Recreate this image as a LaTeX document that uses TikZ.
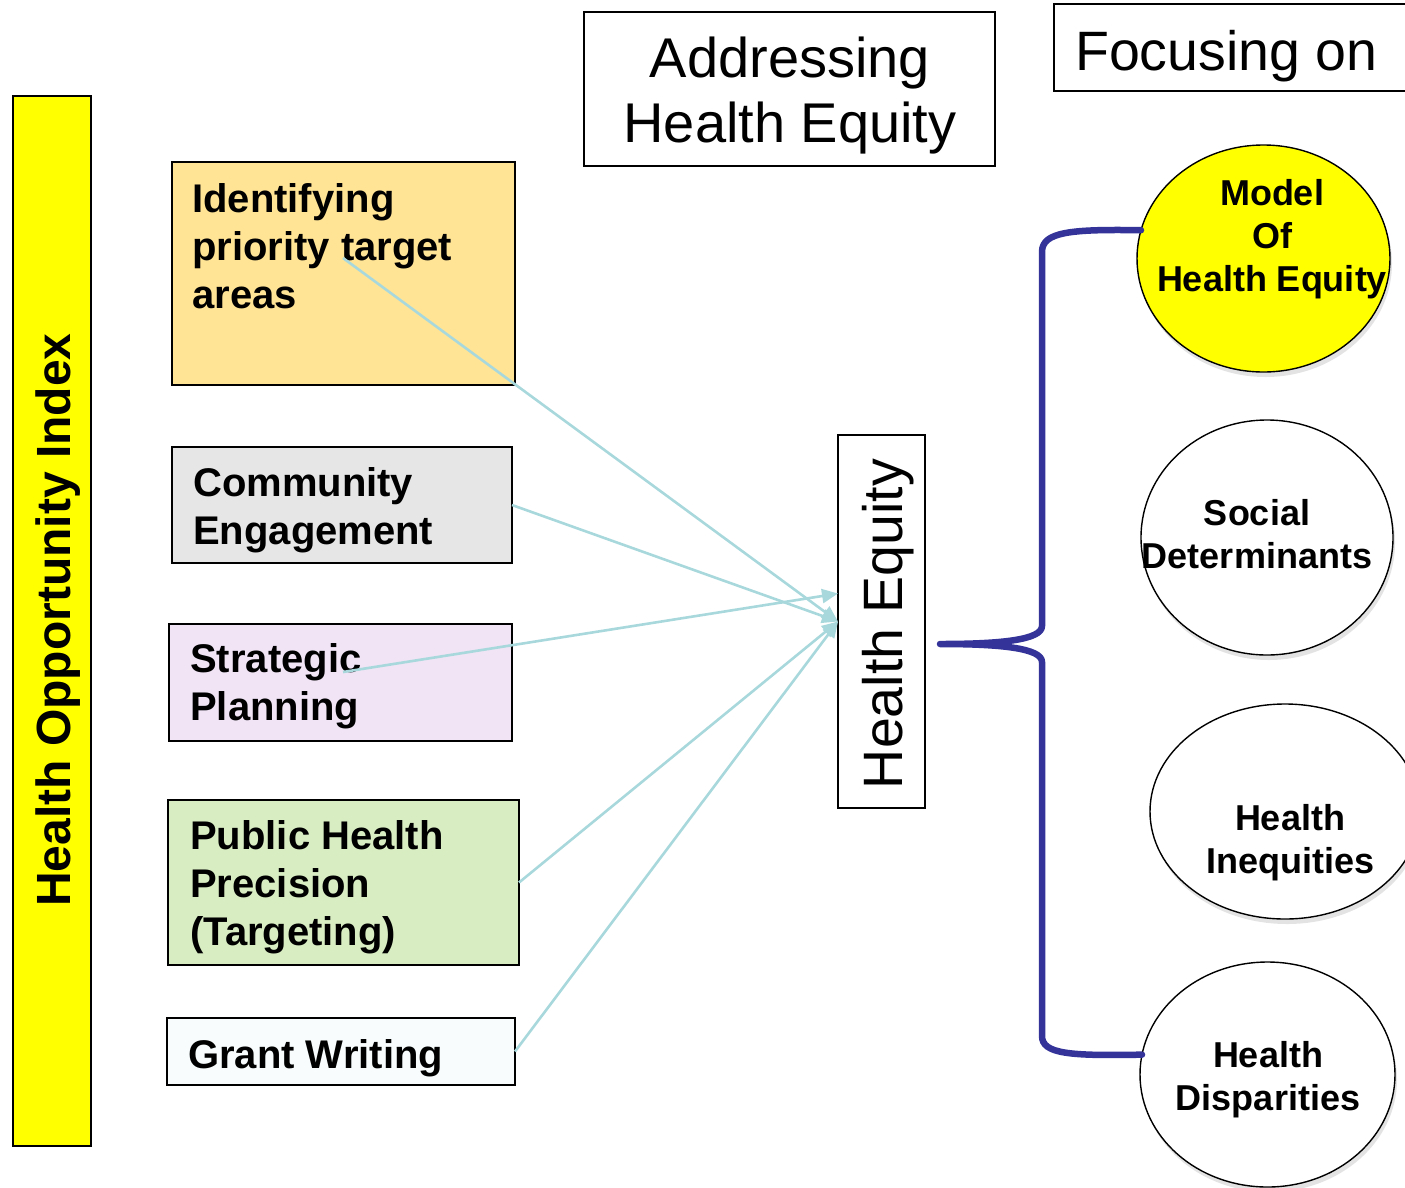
\documentclass[tikz,border=0pt]{standalone}
\usepackage{fontspec}
\setmainfont{Liberation Sans}
\usetikzlibrary{shapes.geometric,arrows.meta,calc,shadows}
\definecolor{orangebox}{HTML}{FFE496}
\definecolor{graybox}{HTML}{E6E6E6}
\definecolor{lavbox}{HTML}{F0E4F5}
\definecolor{greenbox}{HTML}{D8EDC2}
\definecolor{whitebox}{HTML}{F8FCFC}
\definecolor{linkblue}{HTML}{A8D8DC}
\definecolor{bracecol}{HTML}{333399}
\definecolor{hoiyellow}{HTML}{FFFF00}
\begin{document}
\begin{tikzpicture}[x=1pt,y=-1pt,
  box/.style={draw=black, line width=1.4pt, inner sep=0pt, outer sep=0pt, anchor=north west},
  boxtext/.style={anchor=north west, inner sep=0pt, align=left, font=\fontsize{40}{48}\selectfont\bfseries},
  circ/.style={ellipse, draw=black, line width=1.4pt, inner sep=0pt, outer sep=0pt, fill=white,
    drop shadow={opacity=0.22, shadow xshift=2pt, shadow yshift=-5pt}},
  circtext/.style={anchor=north, inner sep=0pt, align=center, font=\fontsize{36}{43}\selectfont\bfseries},
  link/.style={draw=linkblue, line width=2.6pt, -{Triangle[length=16pt,width=14pt]}},
  bracestyle/.style={draw=bracecol, line width=6.5pt, line cap=round, line join=round}
]
\useasboundingbox (0,0) rectangle (1405,1187);
\clip (0,0) rectangle (1405,1187);

% left bar
\node[box, fill=hoiyellow, minimum width=78pt, minimum height=1050pt] (hoi) at (13,96) {};
\node[rotate=90, anchor=base, inner sep=0pt, font=\fontsize{48}{56}\selectfont\bfseries] (hoit) at (70,620) {Health Opportunity Index};

% title boxes
\node[box, fill=white, minimum width=411pt, minimum height=154pt] (addr) at (584,12) {};
\node[anchor=north, inner sep=0pt, align=center, font=\fontsize{56}{65}\selectfont] (addrt) at (790,37) {Addressing\\Health Equity};
\node[box, fill=white, minimum width=380pt, minimum height=87pt] (foc) at (1054,4) {};
\node[anchor=base west, inner sep=0pt, font=\fontsize{55.5}{65}\selectfont] (foct) at (1075,70) {Focusing on};

% left boxes
\node[box, fill=orangebox, minimum width=343pt, minimum height=223pt] (idb) at (172,162) {};
\node[boxtext] (idt) at (192,183) {Identifying\\priority target\\areas};
\node[box, fill=graybox, minimum width=340pt, minimum height=116pt] (ce) at (172,447) {};
\node[boxtext] (cet) at (193,467) {Community\\Engagement};
\node[box, fill=lavbox, minimum width=343pt, minimum height=117pt] (sp) at (169,624) {};
\node[boxtext] (spt) at (190,643) {Strategic\\Planning};
\node[box, fill=greenbox, minimum width=351pt, minimum height=165pt] (ph) at (168,800) {};
\node[boxtext] (pht) at (190,820) {Public Health\\Precision\\(Targeting)};
\node[box, fill=whitebox, minimum width=348pt, minimum height=67pt] (gw) at (167,1018) {};
\node[boxtext] (gwt) at (188,1039) {Grant Writing};

% health equity box
\node[box, fill=white, minimum width=87pt, minimum height=373pt] (he) at (838,435) {};
\node[rotate=90, anchor=base, inner sep=0pt, font=\fontsize{55.5}{65}\selectfont] (het) at (902,624) {Health Equity};

% arrows
\coordinate (s1) at (343,258);
\coordinate (s3) at (343,672);
\coordinate (hup) at ($(he.west)+(0,-28)$);
\draw[link] (s1) -- (he.west);
\draw[link] (ce.east) -- (he.west);
\draw[link] (s3) -- (hup);
\draw[link] (ph.east) -- (he.west);
\draw[link] (gw.east) -- (he.west);

% ellipses
\node[circ, fill=hoiyellow, minimum width=253pt, minimum height=227pt] (m) at (1263.5,258.5) {};
\node[circ, minimum width=252pt, minimum height=235pt] (sd) at (1267,537.5) {};
\node[circ, minimum width=270pt, minimum height=215pt] (hi) at (1285,811.5) {};
\node[circ, minimum width=255pt, minimum height=225pt] (hd) at (1267.5,1074.5) {};
\node[circtext] (mt) at (1272,179) {Model\\Of\\Health Equity};
\node[circtext] (sdt) at (1257,499) {Social\\Determinants};
\node[circtext] (hit) at (1290,804) {Health\\Inequities};
\node[circtext] (hdt) at (1268,1041) {Health\\Disparities};

% brace
\coordinate (tip) at (940,644);
\draw[bracestyle] (m.167) .. controls (1070,229) and (1042,232) .. (1042,252)
  -- (1042,626) .. controls (1042,640) and (1000,644) .. (tip)
  .. controls (1000,644) and (1042,648) .. (1042,662)
  -- (1042,1036) .. controls (1042,1054) and (1070,1056) .. (hd.171);
\end{tikzpicture}
\end{document}
